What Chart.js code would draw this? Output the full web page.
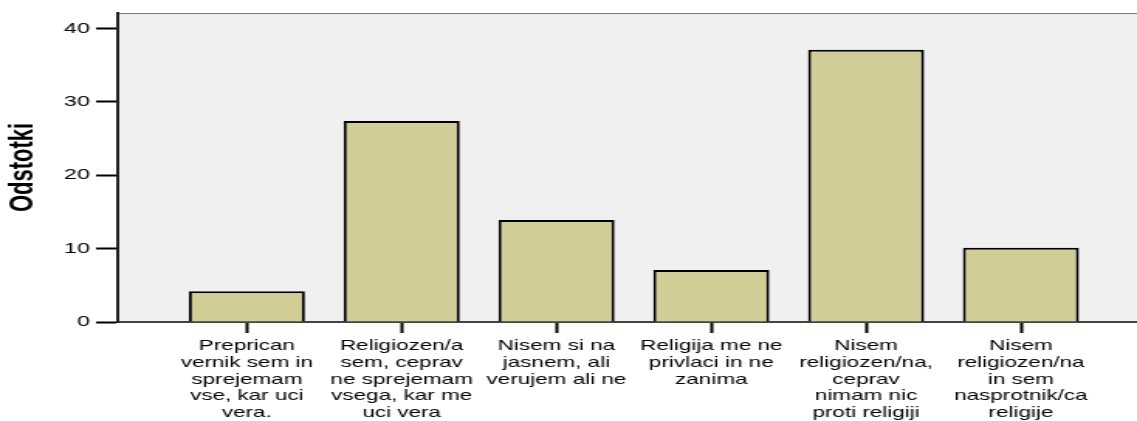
<!DOCTYPE html>
<html>
<head>
<meta charset="utf-8">
<script src="https://cdn.jsdelivr.net/npm/chart.js@4"></script>
<style>
    html, body { margin: 0; padding: 0; background: #ffffff; overflow: hidden; }
    /* the reference is stretched sideways, so draw narrow and widen with CSS */
    #chart { width: 1137px; height: 421px; }
</style>
</head>
<body>
<canvas id="chart" width="734" height="421" style="width:1137px;height:421px"></canvas>
<script>
// Data
const categories = [
    ['Preprican', 'vernik sem in', 'sprejemam', 'vse, kar uci', 'vera.'],
    ['Religiozen/a', 'sem, ceprav', 'ne sprejemam', 'vsega, kar me', 'uci vera'],
    ['Nisem si na', 'jasnem, ali', 'verujem ali ne'],
    ['Religija me ne', 'privlaci in ne', 'zanima'],
    ['Nisem', 'religiozen/na,', 'ceprav', 'nimam nic', 'proti religiji'],
    ['Nisem', 'religiozen/na', 'in sem', 'nasprotnik/ca', 'religije']
];
const percents = [4.2, 27.4, 13.9, 7.1, 37.1, 10.1];
const yTicks = [0, 10, 20, 30, 40];
const yTitle = 'Odstotki';

const FONT = '"Liberation Sans", Arial, sans-serif';

// Grey plot background and top frame line
const plotBackground = {
    id: 'plotBackground',
    beforeDraw(chart) {
        const { ctx, chartArea: a } = chart;
        ctx.save();
        ctx.fillStyle = '#f0f0f0';
        ctx.fillRect(a.left, a.top, a.right - a.left, a.bottom - a.top);
        ctx.strokeStyle = '#7a7a7a';
        ctx.lineWidth = 1;
        ctx.beginPath();
        ctx.moveTo(a.left, a.top + 0.5);
        ctx.lineTo(a.right, a.top + 0.5);
        ctx.stroke();
        ctx.restore();
    }
};

const ctx = document.getElementById('chart').getContext('2d');
new Chart(ctx, {
    type: 'bar',
    data: {
        datasets: [{
            data: percents.map((v, i) => ({ x: i, y: v })),
            backgroundColor: '#d2cd96',
            borderColor: '#000000',
            borderWidth: 2,
            borderSkipped: 'bottom',
            barPercentage: 0.75,
            categoryPercentage: 1
        }]
    },
    options: {
        responsive: false,
        devicePixelRatio: 1,
        animation: false,
        layout: { padding: { top: 13, right: 0, left: 0, bottom: 0 } },
        plugins: {
            legend: { display: false },
            tooltip: { enabled: false }
        },
        scales: {
            x: {
                type: 'linear',
                offset: false,
                min: -0.834,
                max: 5.75,
                afterBuildTicks: (scale) => {
                    scale.ticks = categories.map((c, i) => ({ value: i }));
                },
                afterFit: (scale) => { scale.height = 99; },
                ticks: {
                    autoSkip: false,
                    maxRotation: 0,
                    color: '#000000',
                    padding: 5,
                    font: { family: FONT, size: 14.5, lineHeight: 1.15 },
                    callback: (v) => categories[v]
                },
                grid: {
                    offset: false,
                    drawOnChartArea: false,
                    tickLength: 11,
                    tickColor: '#000000',
                    tickWidth: 2
                },
                border: { color: '#444444', width: 2 }
            },
            y: {
                min: 0,
                max: 42.1,
                afterBuildTicks: (scale) => {
                    scale.ticks = yTicks.map(v => ({ value: v }));
                },
                afterFit: (scale) => { scale.width = 76; },
                ticks: {
                    color: '#000000',
                    padding: 4,
                    font: { family: FONT, size: 15 }
                },
                grid: {
                    drawOnChartArea: false,
                    tickLength: 14,
                    tickColor: '#000000',
                    tickWidth: 2
                },
                border: { color: '#222222', width: 2 },
                title: {
                    display: true,
                    text: yTitle,
                    color: '#000000',
                    padding: { top: 2, bottom: 0 },
                    font: { family: FONT, size: 22, weight: 'bold', lineHeight: 1.2 }
                }
            }
        }
    },
    plugins: [plotBackground]
});
</script>
</body>
</html>
